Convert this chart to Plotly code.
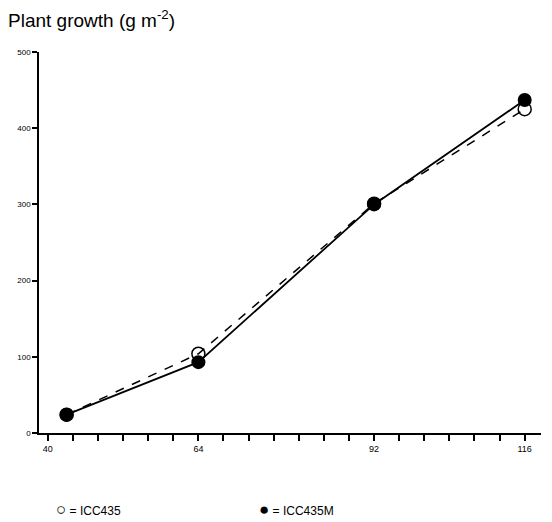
import plotly.graph_objects as go

# Days after sowing and plant growth (g m^-2) for the two lines
days = [43, 64, 92, 116]
icc435 = [24, 104, 301, 425]
icc435m = [24, 93, 300, 437]

x_tick_vals = [40, 64, 92, 116]
x_tick_text = ["40", "64", "92", "116"]
y_tick_vals = [0, 100, 200, 300, 400, 500]

font_family = "Liberation Sans Narrow, Liberation Sans, Arial, sans-serif"

fig = go.Figure()

fig.add_trace(go.Scatter(
    x=days, y=icc435, mode="lines+markers", name="ICC435",
    line=dict(color="black", width=1.5, dash="dash"),
    marker=dict(symbol="circle-open", size=13, color="black", line=dict(width=1.5)),
))
fig.add_trace(go.Scatter(
    x=days, y=icc435m, mode="lines+markers", name="ICC435M",
    line=dict(color="black", width=1.8),
    marker=dict(symbol="circle", size=14, color="black"),
))

fig.update_layout(
    width=552, height=522,
    margin=dict(l=39, r=11, t=52, b=89),
    paper_bgcolor="white", plot_bgcolor="white",
    showlegend=False,
    font=dict(family=font_family, color="black"),
    xaxis=dict(
        range=[38.6, 118.6], showgrid=False, zeroline=False,
        showline=True, linecolor="black", linewidth=1.5,
        tickmode="array", tickvals=x_tick_vals, ticktext=x_tick_text,
        ticks="outside", ticklen=6, tickwidth=1.5, tickcolor="black",
        tickfont=dict(size=9, family=font_family),
        minor=dict(tick0=40, dtick=4, ticks="outside", ticklen=6,
                   tickwidth=1.5, tickcolor="black", showgrid=False),
    ),
    yaxis=dict(
        range=[0, 500], showgrid=False, zeroline=False,
        showline=True, linecolor="black", linewidth=1.5,
        tickmode="array", tickvals=y_tick_vals,
        ticks="outside", ticklen=5, tickwidth=1.5, tickcolor="black",
        tickfont=dict(size=8, family=font_family),
    ),
    annotations=[
        dict(text="Plant growth (g m<sup>-2</sup>)", xref="paper", yref="paper",
             x=-0.065, y=1.05, xanchor="left", yanchor="bottom", showarrow=False,
             font=dict(size=19, family=font_family)),
        dict(text="<span style='font-size:17px'>○</span> = ICC435", xref="paper", yref="paper",
             x=0.03, y=-0.20, xanchor="left", yanchor="middle", showarrow=False,
             font=dict(size=12, family=font_family)),
        dict(text="<span style='font-size:17px'>●</span> = ICC435M", xref="paper", yref="paper",
             x=0.435, y=-0.20, xanchor="left", yanchor="middle", showarrow=False,
             font=dict(size=12, family=font_family)),
    ],
)

fig.write_html("out.html")
